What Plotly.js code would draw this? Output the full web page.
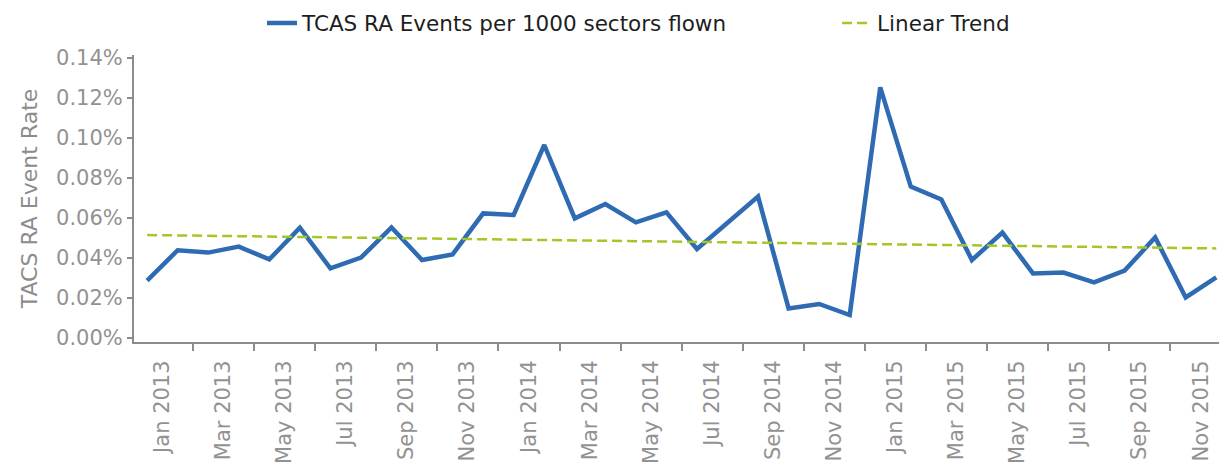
<!DOCTYPE html>
<html>
<head>
<meta charset="utf-8">
<script src="https://cdn.plot.ly/plotly-3.0.1.min.js"></script>
<style>
  html, body { margin: 0; padding: 0; background: #fff; }
  #chart { width: 1219px; height: 463px; }
</style>
</head>
<body>
<div id="chart"></div>
<script>
var months = [
  'Jan 2013', 'Feb 2013', 'Mar 2013', 'Apr 2013', 'May 2013', 'Jun 2013',
  'Jul 2013', 'Aug 2013', 'Sep 2013', 'Oct 2013', 'Nov 2013', 'Dec 2013',
  'Jan 2014', 'Feb 2014', 'Mar 2014', 'Apr 2014', 'May 2014', 'Jun 2014',
  'Jul 2014', 'Aug 2014', 'Sep 2014', 'Oct 2014', 'Nov 2014', 'Dec 2014',
  'Jan 2015', 'Feb 2015', 'Mar 2015', 'Apr 2015', 'May 2015', 'Jun 2015',
  'Jul 2015', 'Aug 2015', 'Sep 2015', 'Oct 2015', 'Nov 2015', 'Dec 2015'
];

// TCAS RA events per 1000 sectors flown, in %
var eventRate = [
  0.0287, 0.0439, 0.0427, 0.0457, 0.0393, 0.0552, 0.0348, 0.0402, 0.0553, 0.0390, 0.0418, 0.0623,
  0.0615, 0.0965, 0.0598, 0.0670, 0.0578, 0.0628, 0.0445, 0.0577, 0.0707, 0.0148, 0.0170, 0.0115,
  0.1253, 0.0757, 0.0693, 0.0390, 0.0527, 0.0323, 0.0327, 0.0278, 0.0337, 0.0503, 0.0203, 0.0303
];

// linear trend, read at first and last month
var trendMonths = ['Jan 2013', 'Dec 2015'];
var trendRate = [0.0515, 0.0448];

var yTicks = [0, 0.02, 0.04, 0.06, 0.08, 0.10, 0.12, 0.14];
var yLabels = ['0.00%', '0.02%', '0.04%', '0.06%', '0.08%', '0.10%', '0.12%', '0.14%'];

var grey = '#8c8c8c';
var font = 'DejaVu Sans, Verdana, sans-serif';

var rate = {
  x: months,
  y: eventRate,
  name: 'TCAS RA Events per 1000 sectors flown',
  type: 'scatter',
  mode: 'lines',
  legend: 'legend',
  line: {color: '#2e6bb2', width: 4.5}
};

var trend = {
  x: trendMonths,
  y: trendRate,
  name: 'Linear Trend',
  type: 'scatter',
  mode: 'lines',
  legend: 'legend2',
  line: {color: '#a3c726', width: 2.5, dash: '10px,5px'}
};

var legendFont = {family: font, size: 21.5, color: '#1e1e1e'};

var layout = {
  width: 1219,
  height: 463,
  margin: {l: 134, r: 0, t: 55, b: 121},
  paper_bgcolor: '#fff',
  plot_bgcolor: '#fff',
  font: {family: font, color: grey},
  showlegend: true,
  legend: {
    orientation: 'h',
    x: 0.118, xanchor: 'left',
    y: 1.183, yanchor: 'top',
    font: legendFont,
    bgcolor: 'rgba(0,0,0,0)'
  },
  legend2: {
    orientation: 'h',
    x: 0.648, xanchor: 'left',
    y: 1.183, yanchor: 'top',
    font: legendFont,
    bgcolor: 'rgba(0,0,0,0)'
  },
  xaxis: {
    type: 'category',
    range: [-0.43, 35.09],
    dtick: 2,
    tickson: 'boundaries',
    ticks: 'outside',
    ticklen: 7,
    tickwidth: 2,
    tickcolor: grey,
    tickangle: -90,
    ticklabelshift: 15,
    ticklabelstandoff: 8,
    tickfont: {size: 21, color: '#929292'},
    showline: true,
    linecolor: grey,
    linewidth: 2,
    showgrid: false,
    zeroline: false
  },
  yaxis: {
    title: {text: 'TACS RA Event Rate', font: {size: 22, color: grey}, standoff: 12},
    range: [-0.002, 0.1415],
    tickvals: yTicks,
    ticktext: yLabels,
    ticks: 'outside',
    ticklen: 5,
    tickwidth: 2,
    tickcolor: grey,
    tickfont: {size: 21, color: '#929292'},
    showline: true,
    linecolor: grey,
    linewidth: 2,
    showgrid: false,
    zeroline: false,
    automargin: false
  }
};

Plotly.newPlot('chart', [rate, trend], layout, {displayModeBar: false, staticPlot: true});
</script>
</body>
</html>
